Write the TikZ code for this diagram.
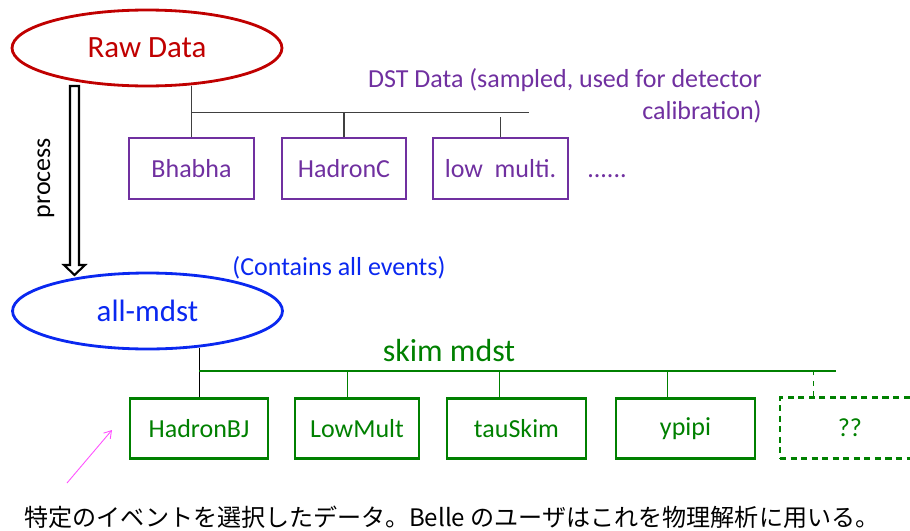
\documentclass[tikz,border=0pt]{standalone}
\usepackage{fontspec}
\setmainfont{Carlito}
\newfontfamily\jpfont{Noto Sans CJK JP}
\usetikzlibrary{arrows.meta,positioning,calc,shapes.geometric}

\definecolor{rawred}{RGB}{192,0,0}
\definecolor{mdstblue}{RGB}{10,40,240}
\definecolor{dstpurple}{RGB}{112,48,160}
\definecolor{skimgreen}{RGB}{0,128,0}
\definecolor{notepink}{RGB}{255,80,255}
\definecolor{treegray}{RGB}{64,64,64}

\tikzset{
  dataell/.style={ellipse,draw,line width=1.6pt,minimum width=5.4cm,minimum height=1.52cm,inner sep=0pt,font=\fontsize{17.6}{21}\selectfont},
  dstbox/.style={rectangle,draw=dstpurple,text=dstpurple,line width=1.1pt,minimum height=1.21cm,inner sep=0pt,font=\fontsize{14.8}{18}\selectfont},
  skimbox/.style={rectangle,draw=skimgreen,text=skimgreen,line width=1.5pt,minimum height=1.21cm,inner sep=0pt,font=\fontsize{14.8}{18}\selectfont},
  lbl/.style={inner sep=0pt,font=\fontsize{14.8}{18.2}\selectfont}
}

\begin{document}
\begin{tikzpicture}[x=0.02cm,y=-0.02cm]
    \useasboundingbox (0,0) rectangle (910,531);

    % raw data and all-mdst
    \node[dataell,draw=rawred,text=rawred] (raw) at (147,48) {Raw Data};
    \node[dataell,draw=mdstblue,text=mdstblue] (alld) at (147.5,311) {all-mdst};
    \node[lbl,text=mdstblue] (cont) at (339,268) {(Contains all events)};

    % process
    \coordinate (ptop) at (74.5,86);
    \coordinate (ptip) at (74.5,275);
    \draw[line width=1.2pt,fill=white,line join=miter]
      ($(ptop)+(-4.5,0)$) -- ($(ptip)+(-4.5,-10)$) -- ($(ptip)+(-10.5,-10)$) -- (ptip)
      -- ($(ptip)+(10.5,-10)$) -- ($(ptip)+(4.5,-10)$) -- ($(ptop)+(4.5,0)$) -- cycle;
    \node[lbl,rotate=90] (proc) at (46,178) {process};

    % DST data
    \foreach \n/\x/\w/\t in {bhabha/191.5/125/Bhabha, hadc/344/124/HadronC, lowm/500.5/135/low~~multi.}
      \node[dstbox,minimum width=\w*0.02cm] (\n) at (\x,168.5) {\t};
    \node[lbl,text=dstpurple] (dots) at (607,176) {......};
    \node[lbl,text=dstpurple,align=right,anchor=east] (dst) at (762,96) {DST Data (sampled, used for detector\\calibration)};
    \coordinate (dstend) at (529,112.5);
    \draw[treegray,line width=0.6pt,shorten <=-1pt] (bhabha.north |- raw.south) -- (bhabha.north);
    \draw[treegray,line width=0.6pt] (bhabha.north |- dstend) -- (dstend);
    \draw[treegray,line width=0.6pt] (hadc.north) -- (hadc.north |- dstend);
    \draw[treegray,line width=0.6pt] (lowm.north) -- ($(lowm.north |- dstend)+(0,4)$);

    % skim mdst
    \foreach \n/\x/\w/\t in {hbj/199/138/HadronBJ, lowmult/357/124/LowMult, tau/516.5/139/tauSkim, ypp/685.5/139/ypipi}
      \node[skimbox,minimum width=\w*0.02cm] (\n) at (\x,428.5) {\t};
    \node[skimbox,dash pattern=on 3.5pt off 2.5pt,minimum width=140*0.02cm] (unk) at (850,428) {??};
    \node[lbl,text=skimgreen,font=\fontsize{18.2}{21}\selectfont] (skim) at (449,351) {skim mdst};
    \coordinate (skimend) at (836,371);
    \draw[line width=0.5pt,shorten <=-1.5pt] (hbj.north |- alld.south) -- (hbj.north);
    \draw[skimgreen,line width=0.7pt] (hbj.north |- skimend) -- (skimend);
    \foreach \n/\dx in {lowmult/54, tau/54, ypp/53}
      \draw[skimgreen,line width=0.7pt] ($(\n.north west)+(\dx,0)$) -- ($(\n.north west |- skimend)+(\dx,0)$);
    \draw[skimgreen,line width=0.6pt,dashed] ($(unk.north west)+(35,0)$) -- ($(unk.north west |- skimend)+(35,0)$);

    % note
    \node[inner sep=0pt,font=\fontsize{13.7}{16}\jpfont] (note) at (452,517) {特定のイベントを選択したデータ。Belle のユーザはこれを物理解析に用いる。};
    \coordinate (nfrom) at (67,483);
    \coordinate (nto) at (112,430);
    \draw[notepink,line width=0.5pt,-{Straight Barb[length=4pt,width=5pt]}] (nfrom) -- (nto);
\end{tikzpicture}
\end{document}
